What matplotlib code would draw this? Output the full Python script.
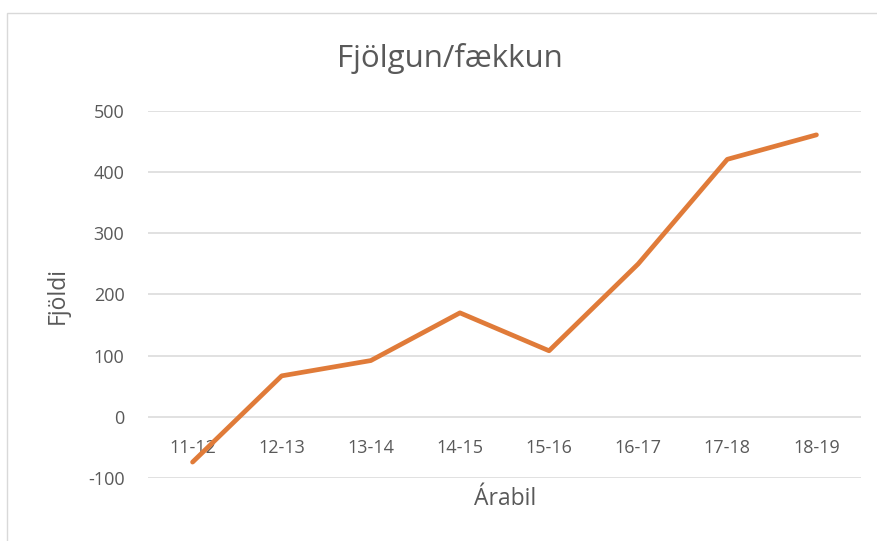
import matplotlib
matplotlib.use("Agg")
from matplotlib import pyplot as plt
from matplotlib.patches import Rectangle

# data
periods = ["11-12", "12-13", "13-14", "14-15", "15-16", "16-17", "17-18", "18-19"]
change = [-74, 67, 92, 170, 108, 250, 421, 461]
yticks = [-100, 0, 100, 200, 300, 400, 500]

plt.rcParams['font.family'] = ['Open Sans', 'DejaVu Sans']
grey = "#595959"

fig = plt.figure(figsize=(8.78, 5.41), dpi=100)
ax = fig.add_axes([148 / 878, 63 / 541, 713 / 878, 367 / 541])

x = list(range(len(periods)))
ax.plot(x, change, color="#E07B39", linewidth=3.4, solid_capstyle="round",
        solid_joinstyle="round", clip_on=False, zorder=3)

ax.set_xlim(-0.5, len(periods) - 0.5)
ax.set_ylim(-100, 500)
ax.set_yticks(yticks)
ax.set_yticklabels([str(v) for v in yticks])
ax.grid(axis="y", color="#D9D9D9", linewidth=1.1)
ax.set_axisbelow(True)
for s in ax.spines.values():
    s.set_visible(False)
# category labels sit just below the zero line
ax.spines['bottom'].set_position(('data', 0))
ax.set_xticks(x)
ax.set_xticklabels(periods)
ax.tick_params(axis="x", length=0, pad=16, labelsize=13, labelcolor=grey)
ax.tick_params(axis="y", length=0, pad=17, labelsize=13, labelcolor=grey)

fig.text(450 / 878, 1 - 58 / 541, "Fjölgun/fækkun", ha="center", va="center",
         fontsize=22.5, color=grey)
fig.text(58 / 878, 1 - 295 / 541, "Fjöldi", ha="center", va="center",
         rotation=90, fontsize=16.5, color=grey)
fig.text(505 / 878, 1 - 499 / 541, "Árabil", ha="center", va="center",
         fontsize=16.5, color=grey)

# chart frame, cut off at right and bottom
fig.patches.append(Rectangle((7.5 / 878, -0.1), 1.2, 1 - 12.5 / 541 + 0.1,
                             transform=fig.transFigure, fill=False,
                             edgecolor="#D9D9D9", linewidth=1.0))

plt.savefig("out.png", dpi=100)
